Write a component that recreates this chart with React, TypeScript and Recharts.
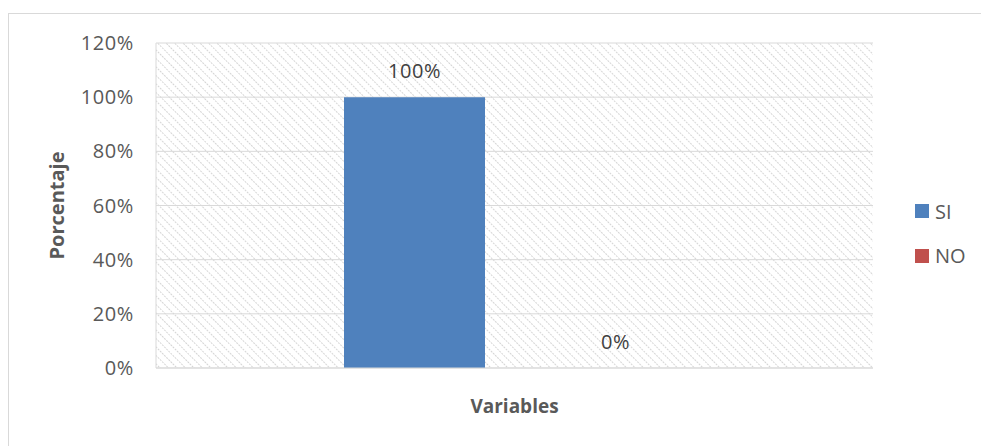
import React from 'react';
import { BarChart, Bar, XAxis, YAxis, CartesianGrid, LabelList } from 'recharts';

const categories = ['Variables'];
const siValues = [1];
const noValues = [0];
const yTicks = [0, 0.2, 0.4, 0.6, 0.8, 1, 1.2];

const seriesList = [
    { key: 'SI', color: '#4F81BD' },
    { key: 'NO', color: '#C0504D' },
];

const data = categories.map((name, i) => ({ name, SI: siValues[i], NO: noValues[i] }));

const FONT = '"Open Sans", Lato, sans-serif';
const pct = (v: any) => `${Math.round(Number(v) * 100)}%`;

export default function App() {
    return (
        <div
            style={{
                position: 'fixed',
                left: 8,
                top: 13,
                width: 980,
                height: 440,
                border: '1px solid #d9d9d9',
                background: '#fff',
                fontFamily: FONT,
            }}
        >
            <BarChart
                width={973}
                height={433}
                data={data}
                margin={{ top: 29, right: 109, left: 37, bottom: 34 }}
                barSize={141}
                barGap={60}
            >
                <defs>
                    <pattern id="hatch" width="6" height="6" patternUnits="userSpaceOnUse" patternTransform="rotate(-45)">
                        <line x1="0" y1="0" x2="0" y2="6" stroke="#cccccc" strokeWidth="1.6" strokeDasharray="2 1" />
                    </pattern>
                </defs>
                <CartesianGrid vertical={false} stroke="#d9d9d9" fill="url(#hatch)" fillOpacity={1} />
                <XAxis
                    dataKey="name"
                    tick={false}
                    tickLine={false}
                    axisLine={{ stroke: '#d9d9d9' }}
                    height={45}
                    label={{ value: 'Variables', position: 'insideBottom', offset: 0, fill: '#595959', fontSize: 19, fontWeight: 'bold', fontFamily: FONT }}
                />
                <YAxis
                    domain={[0, 1.2]}
                    ticks={yTicks}
                    tickFormatter={pct}
                    tickLine={false}
                    axisLine={{ stroke: '#d9d9d9' }}
                    tickMargin={16}
                    width={110}
                    tick={{ fill: '#595959', fontSize: 20, fontFamily: FONT, letterSpacing: 0.6 }}
                    label={{ value: 'Porcentaje', angle: -90, position: 'insideLeft', offset: 11, fill: '#595959', fontSize: 20, fontWeight: 'bold', fontFamily: FONT, style: { textAnchor: 'middle' } }}
                />
                <YAxis yAxisId="right" orientation="right" width={0} tick={false} tickLine={false} axisLine={{ stroke: '#d9d9d9' }} />
                {seriesList.map((s) => (
                    <Bar key={s.key} dataKey={s.key} fill={s.color} minPointSize={0.01} isAnimationActive={false}>
                        <LabelList dataKey={s.key} position="top" offset={19} formatter={pct} fill="#404040" fontSize={20} fontFamily={FONT} letterSpacing={0.6} />
                    </Bar>
                ))}
            </BarChart>
            <div style={{ position: 'absolute', left: 906, top: 175, color: '#595959', fontSize: 20 }}>
                {seriesList.map((s) => (
                    <div key={s.key} style={{ display: 'flex', alignItems: 'center', height: 44.5 }}>
                        <span style={{ display: 'inline-block', width: 14, height: 14, background: s.color, marginRight: 6 }} />
                        {s.key}
                    </div>
                ))}
            </div>
        </div>
    );
}
